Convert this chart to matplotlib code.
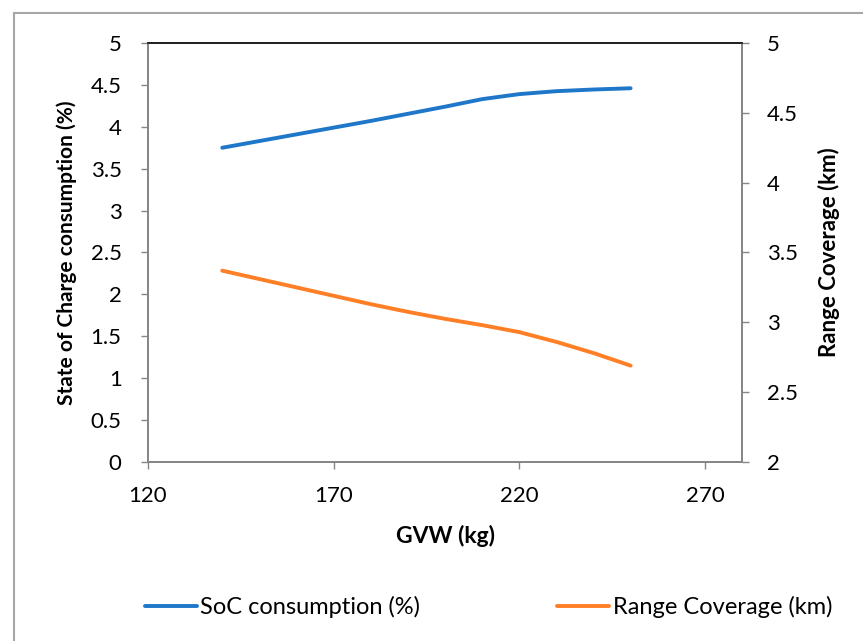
import matplotlib
matplotlib.use("Agg")
import matplotlib.pyplot as plt
from matplotlib.lines import Line2D

plt.rcParams['font.family'] = ['Lato', 'DejaVu Sans']

# data
gvw = [140, 150, 160, 170, 180, 190, 200, 210, 220, 230, 240, 250]
soc = [3.75, 3.83, 3.91, 3.99, 4.07, 4.155, 4.24, 4.33, 4.39, 4.425, 4.445, 4.46]
range_km = [3.37, 3.31, 3.25, 3.19, 3.13, 3.075, 3.025, 2.98, 2.93, 2.86, 2.78, 2.69]

soc_ticks = [0, 0.5, 1, 1.5, 2, 2.5, 3, 3.5, 4, 4.5, 5]
range_ticks = [2, 2.5, 3, 3.5, 4, 4.5, 5]
x_ticks = [120, 170, 220, 270]

blue = '#1f77c9'
orange = '#ff7f27'
gray = '#868686'

fig = plt.figure(figsize=(8.63, 6.41), dpi=100)
W, H = 863, 641
left, right, top, bottom = 148, 742, 43, 462
ax = fig.add_axes([left / W, 1 - bottom / H, (right - left) / W, (bottom - top) / H])
ax2 = ax.twinx()

l1, = ax.plot(gvw, soc, color=blue, lw=2.8, solid_capstyle='round', solid_joinstyle='round')
l2, = ax2.plot(gvw, range_km, color=orange, lw=2.8, solid_capstyle='round', solid_joinstyle='round')

ax.set_xlim(120, 280)
ax.set_ylim(0, 5)
ax2.set_ylim(2, 5)
ax.set_xticks(x_ticks)
ax.set_yticks(soc_ticks)
ax.set_yticklabels([f"{t:g}" for t in soc_ticks])
ax2.set_yticks(range_ticks)
ax2.set_yticklabels([f"{t:g}" for t in range_ticks])

for a in (ax, ax2):
    for s in ('left', 'right', 'bottom'):
        a.spines[s].set_color(gray)
        a.spines[s].set_linewidth(1.3)
    a.spines['top'].set_color('#222222')
    a.spines['top'].set_linewidth(1.3)
    a.tick_params(axis='both', colors=gray, labelcolor='black', labelsize=16,
                  length=5, width=1)

ax.tick_params(axis='y', pad=14)
ax2.tick_params(axis='y', pad=13)
ax.tick_params(axis='x', pad=12)

ax.set_xlabel('GVW (kg)', fontsize=16.5, fontweight='bold', labelpad=14)
ax.set_ylabel('State of Charge consumption (%)', fontsize=15, fontweight='bold', labelpad=10)
ax2.set_ylabel('Range Coverage (km)', fontsize=16, fontweight='bold', labelpad=14)

fig.legend([l1, l2], ['SoC consumption (%)', 'Range Coverage (km)'],
           loc='center', bbox_to_anchor=(0.566, 1 - 607 / H), ncol=2, frameon=False,
           fontsize=17, handlelength=2.2, handletextpad=0.15, columnspacing=5.8)

# outer chart border (left and top only visible)
fig.add_artist(Line2D([14 / W, 14 / W], [0, 1 - 13 / H], color='#a6a6a6', lw=1.5,
                      transform=fig.transFigure))
fig.add_artist(Line2D([14 / W, 1], [1 - 13 / H, 1 - 13 / H], color='#a6a6a6', lw=1.5,
                      transform=fig.transFigure))

fig.savefig('out.png', dpi=100)
